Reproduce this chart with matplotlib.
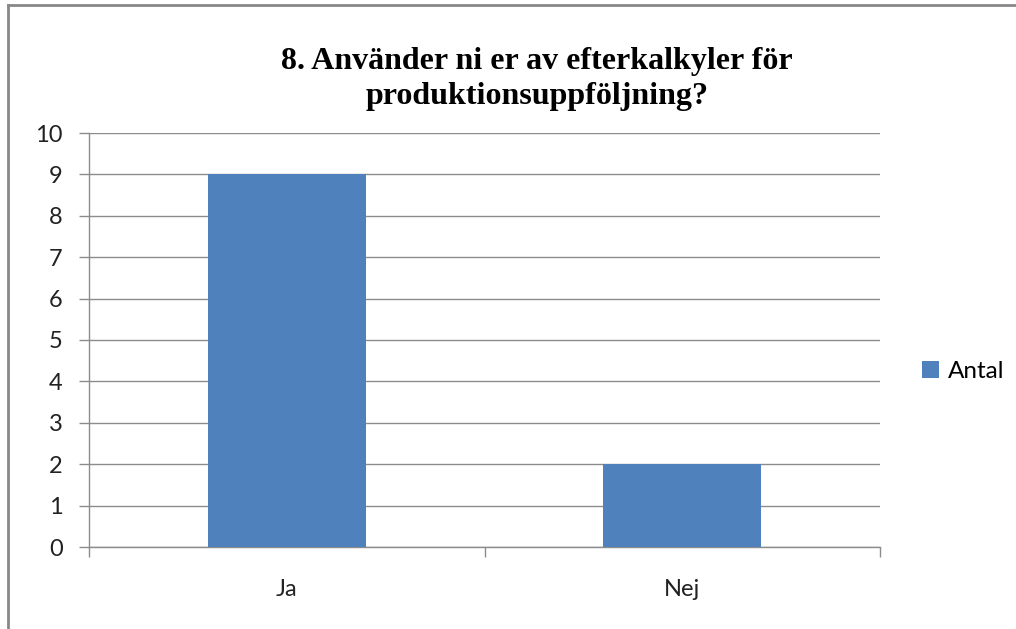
import matplotlib.pyplot as plt

# Data
categories = ['Ja', 'Nej']
antal = [9, 2]
title = '8. Använder ni er av efterkalkyler för\nproduktionsuppföljning?'

fig = plt.figure(figsize=(10.16, 6.29), dpi=100)
ax = fig.add_axes([89 / 1016, 82 / 629, 791 / 1016, 414 / 629])

x = range(len(categories))
ax.bar(x, antal, width=0.4, color='#4F81BD', label='Antal', zorder=3)

ax.set_xlim(-0.5, len(categories) - 0.5)
ax.set_ylim(0, 10)
ax.set_yticks(range(0, 11))
ax.yaxis.grid(True, color='#8C8C8C', linewidth=1.0, zorder=0)

ax.set_xticks([i - 0.5 for i in range(len(categories) + 1)], minor=False)
ax.set_xticklabels([])
ax.set_xticks(list(x), minor=True)
ax.set_xticklabels(categories, minor=True)
ax.tick_params(axis='x', which='major', length=7, width=1, color='#8C8C8C')
ax.tick_params(axis='x', which='minor', length=0, pad=23, labelsize=17)
ax.tick_params(axis='y', length=7, width=1, color='#8C8C8C', pad=12, labelsize=17)

for s in ['top', 'right']:
    ax.spines[s].set_visible(False)
for s in ['left', 'bottom']:
    ax.spines[s].set_color('#8C8C8C')
    ax.spines[s].set_linewidth(1.0)

for lbl in ax.get_xticklabels(minor=True) + ax.get_yticklabels():
    lbl.set_family(['Lato', 'DejaVu Sans'])
    lbl.set_color('#222222')

fig.text(537 / 1016, 1 - 79 / 629, title, ha='center', va='center',
         family='Liberation Serif', fontweight='bold', fontsize=23,
         linespacing=1.25)

leg = ax.legend(loc='center left', bbox_to_anchor=(1.026, 0.425), frameon=False,
                handlelength=0.7, handleheight=0.7, handletextpad=0.35,
                prop={'family': 'Lato', 'size': 17.5})

# outer frame (only left and top visible in the reference)
fig.add_artist(plt.Line2D([7.5 / 1016, 7.5 / 1016], [0, 1 - 5 / 629],
                          transform=fig.transFigure, color='#888888', linewidth=2))
fig.add_artist(plt.Line2D([7.5 / 1016, 1], [1 - 5 / 629, 1 - 5 / 629],
                          transform=fig.transFigure, color='#888888', linewidth=2))

fig.savefig('out.png', dpi=100)
